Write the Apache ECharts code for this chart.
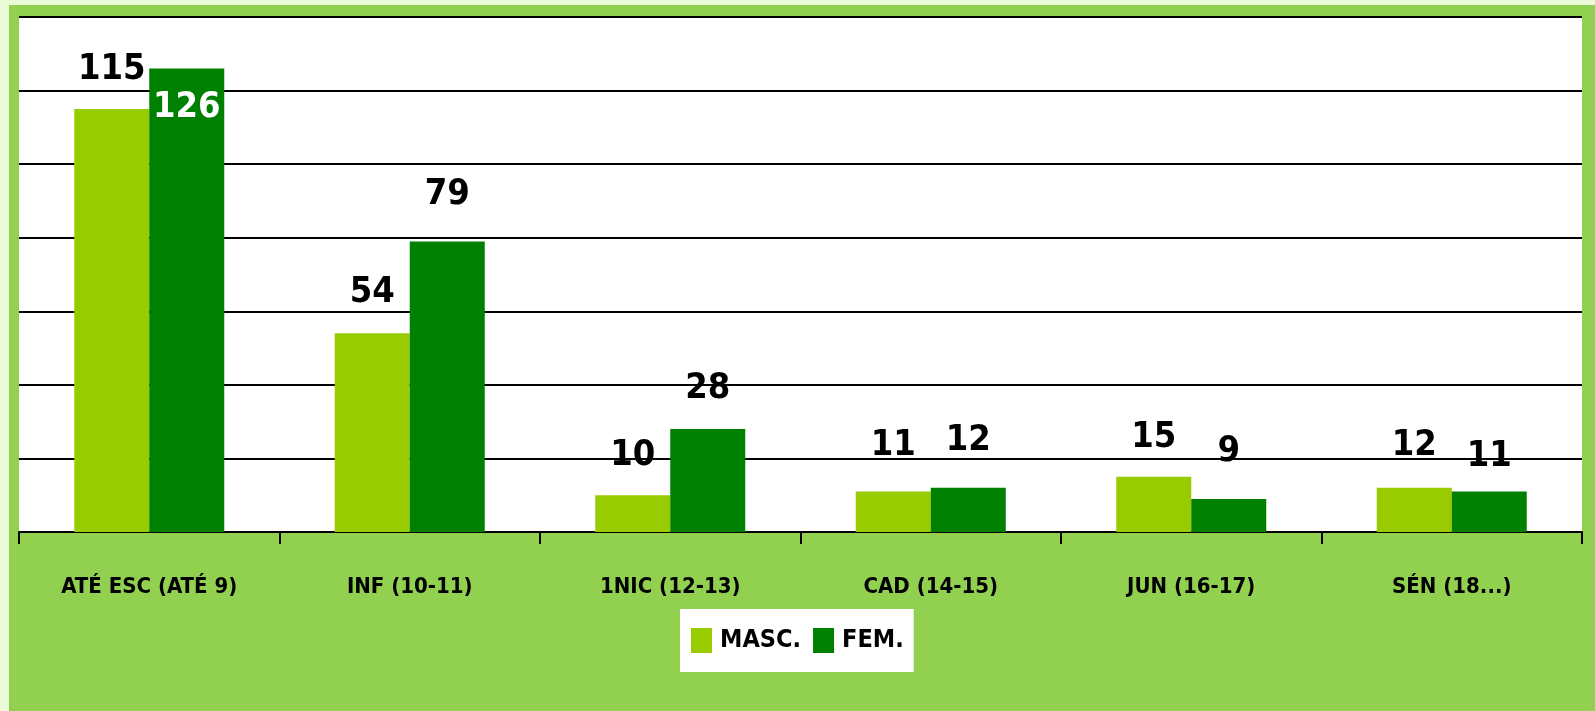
<!DOCTYPE html>
<html lang="pt">
<head>
    <meta charset="UTF-8">
    <title>Escalões</title>
    <script src="https://cdn.jsdelivr.net/npm/echarts@6/dist/echarts.min.js"></script>
    <style>
        body { margin: 0; background: #ebfbd8; }
        #main { position: absolute; left: 9px; top: 5px; width: 1586px; height: 706px; }
    </style>
</head>
<body>
    <div id="main"></div>
    <script>
        var escaloes = ['ATÉ ESC (ATÉ 9)', 'INF (10-11)', '1NIC (12-13)', 'CAD (14-15)', 'JUN (16-17)', 'SÉN (18...)'];
        var masc = [115, 54, 10, 11, 15, 12];
        var fem = [126, 79, 28, 12, 9, 11];
        var yTicks = [0, 20, 40, 60, 80, 100, 120, 140];

        // distância de cada etiqueta ao topo da barra (px), como no original
        var distMasc = [21, 23, 22, 28, 21, 24];
        var distFem = [21, 29, 22, 29, 29, 17];

        var fonte = '"Liberation Sans Narrow", "DejaVu Sans Condensed", "Arial Narrow", sans-serif';

        var mascData = [];
        var femData = [];
        for (var i = 0; i < masc.length; i++) {
            mascData.push({ value: masc[i], label: { distance: distMasc[i] } });
            if (i == 0) {
                // o 126 fica dentro da barra, a branco
                femData.push({
                    value: fem[i],
                    label: { position: 'insideTop', distance: distFem[i], color: '#ffffff' }
                });
            } else {
                femData.push({ value: fem[i], label: { distance: distFem[i] } });
            }
        }

        var myChart = echarts.init(document.getElementById('main'));
        var option = {
            backgroundColor: '#92d050',
            animation: false,
            grid: {
                show: true,
                left: 10,
                right: 13,
                top: 12,
                bottom: 179,
                backgroundColor: '#ffffff',
                borderWidth: 0,
                containLabel: false
            },
            legend: {
                data: ['MASC.', 'FEM.'],
                icon: 'rect',
                left: 671,
                top: 604,
                backgroundColor: '#ffffff',
                padding: [19, 10, 19, 11],
                itemWidth: 21,
                itemHeight: 25,
                itemGap: 12,
                textStyle: {
                    fontFamily: fonte,
                    fontWeight: 'bold',
                    fontSize: 25,
                    color: '#000000',
                    padding: [0, 0, 0, 3]
                }
            },
            xAxis: {
                type: 'category',
                data: escaloes,
                axisLine: { show: true, lineStyle: { color: '#000000', width: 2 } },
                axisTick: { show: true, interval: 0, length: 12, lineStyle: { color: '#000000', width: 2 } },
                axisLabel: {
                    interval: 0,
                    margin: 44,
                    fontFamily: fonte,
                    fontWeight: 'bold',
                    fontSize: 22,
                    color: '#000000'
                }
            },
            yAxis: {
                type: 'value',
                min: yTicks[0],
                max: yTicks[yTicks.length - 1],
                interval: yTicks[1] - yTicks[0],
                axisLine: { show: false },
                axisTick: { show: false },
                axisLabel: { show: false },
                splitLine: { lineStyle: { color: '#000000', width: 2 } }
            },
            series: [
                {
                    name: 'MASC.',
                    type: 'bar',
                    data: mascData,
                    barWidth: 75,
                    barGap: '0%',
                    itemStyle: { color: '#99cc00' },
                    label: {
                        show: true,
                        position: 'top',
                        fontFamily: fonte,
                        fontWeight: 'bold',
                        fontSize: 36,
                        color: '#000000'
                    }
                },
                {
                    name: 'FEM.',
                    type: 'bar',
                    data: femData,
                    barWidth: 75,
                    barGap: '0%',
                    itemStyle: { color: '#008000' },
                    label: {
                        show: true,
                        position: 'top',
                        fontFamily: fonte,
                        fontWeight: 'bold',
                        fontSize: 36,
                        color: '#000000'
                    }
                }
            ]
        };
        myChart.setOption(option);
    </script>
</body>
</html>
